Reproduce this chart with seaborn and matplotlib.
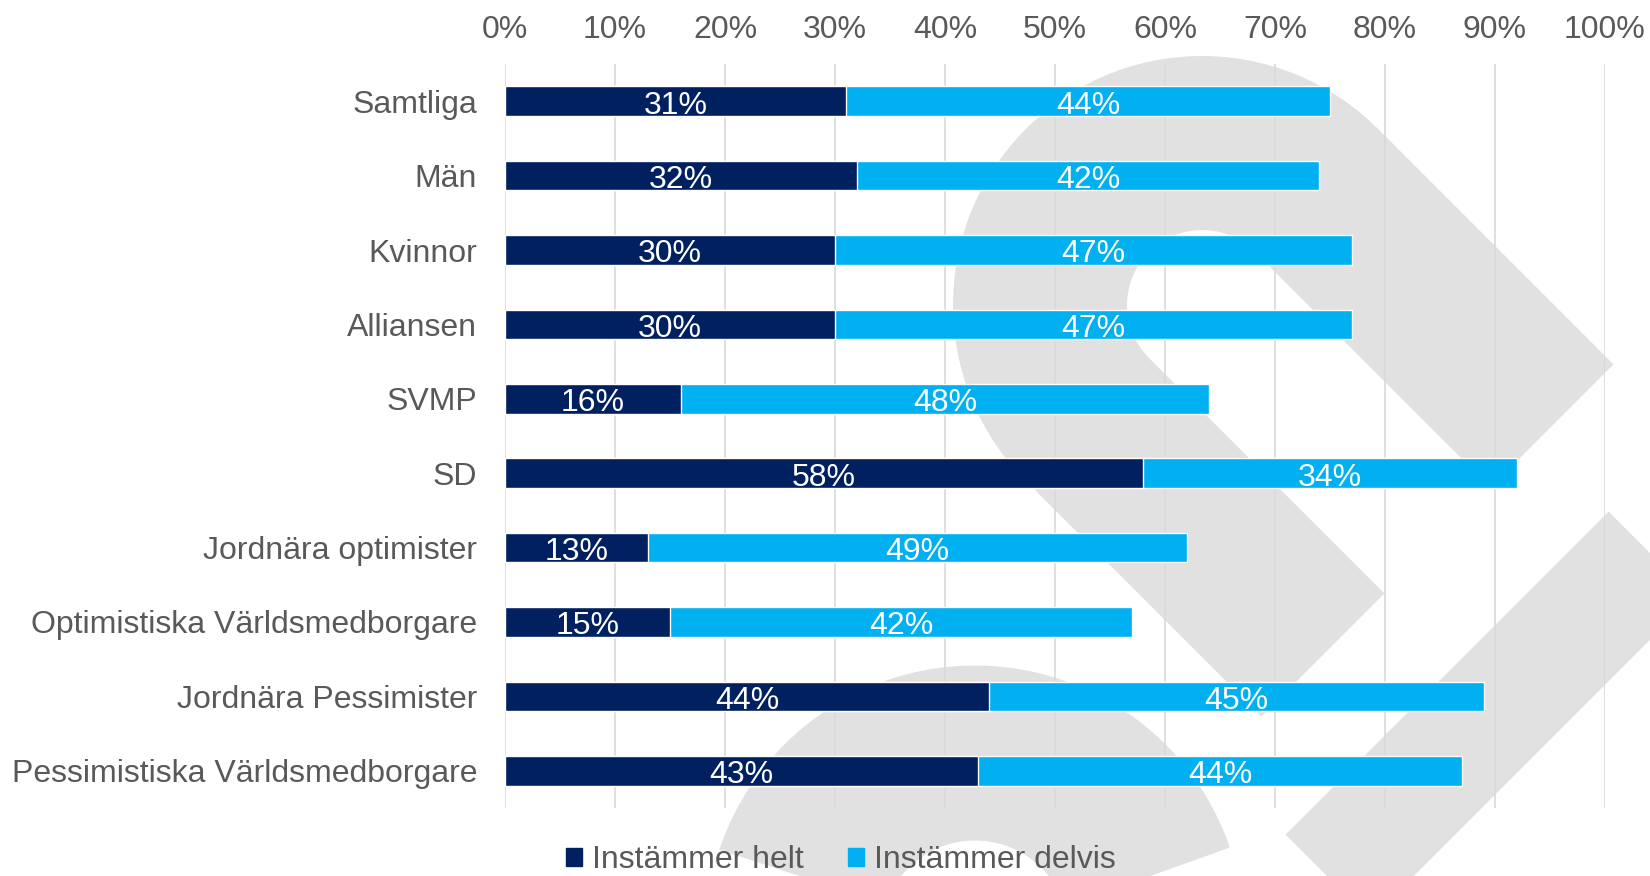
import numpy as np
import pandas as pd
import matplotlib
matplotlib.use('Agg')
import matplotlib.pyplot as plt
from matplotlib.lines import Line2D
from matplotlib.patches import Patch
import seaborn as sns

# data
groups = ['Samtliga', 'Män', 'Kvinnor', 'Alliansen', 'SVMP', 'SD',
          'Jordnära optimister', 'Optimistiska Världsmedborgare',
          'Jordnära Pessimister', 'Pessimistiska Världsmedborgare']
helt = [31, 32, 30, 30, 16, 58, 13, 15, 44, 43]
delvis = [44, 42, 47, 47, 48, 34, 49, 42, 45, 44]
series = ['Instämmer helt', 'Instämmer delvis']
ticks = list(range(0, 101, 10))

NAVY = '#002060'
LIGHT = '#00B0F0'
TXT = '#595959'
WM = '#E1E1E1'

sns.set_theme(style='white')
plt.rcParams['font.family'] = ['Liberation Sans', 'DejaVu Sans']

df = pd.DataFrame({'grupp': groups, 'helt': helt, 'delvis': delvis})
df['totalt'] = df['helt'] + df['delvis']

W, H = 1650, 876
fig = plt.figure(figsize=(W / 100, H / 100), dpi=100)
fig.patch.set_facecolor('white')


def stroke(pts, width):
    # pts in pixel coords (y down), width in pixels
    pts = np.asarray(pts, dtype=float)
    ln = Line2D(pts[:, 0] / W, 1 - pts[:, 1] / H, transform=fig.transFigure,
                color=WM, lw=width * 0.72, solid_capstyle='butt',
                solid_joinstyle='round', zorder=-5)
    fig.add_artist(ln)


# background logo (rough)
c = np.array([1202, 305])
d = np.array([1, 1]) / np.sqrt(2)
n = np.array([-1, 1]) / np.sqrt(2)
r, arm = 162, 333
th = np.radians(np.linspace(-45, -225, 60))
arc = c + r * np.c_[np.cos(th), np.sin(th)]
stroke(np.vstack([c - r * n + arm * d, arc, c + r * n + arm * d]), 174)
th = np.radians(np.linspace(0, 360, 120))
stroke(np.array([975, 935]) + 182 * np.c_[np.cos(th), np.sin(th)], 175)
stroke([[1205, 1000], [1750, 455]], 120)

ax = fig.add_axes([505 / W, 1 - 808 / H, 1100 / W, 744 / H])
ax.set_facecolor('none')

sns.barplot(data=df, y='grupp', x='totalt', orient='h', color=LIGHT,
            saturation=1, width=0.4, ax=ax, zorder=3)
sns.barplot(data=df, y='grupp', x='helt', orient='h', color=NAVY,
            saturation=1, width=0.4, ax=ax, zorder=3)

for i, (h, dv) in enumerate(zip(helt, delvis)):
    ax.text(h / 2, i + 0.06, f'{h}%', ha='center', va='center', color='white',
            fontsize=23, zorder=4)
    ax.text(h + dv / 2, i + 0.06, f'{dv}%', ha='center', va='center',
            color='white', fontsize=23, zorder=4)

ax.set_xlim(0, 100)
ax.set_ylim(9.5, -0.5)
ax.xaxis.tick_top()
ax.set_xticks(ticks)
ax.set_xticklabels([f'{t}%' for t in ticks])
ax.set_xlabel('')
ax.set_ylabel('')
ax.grid(axis='x', color='#D9D9D9', lw=1.2)
ax.grid(axis='y', visible=False)
ax.set_axisbelow(True)
for s in ax.spines.values():
    s.set_visible(False)
ax.tick_params(axis='x', length=0, pad=14, labelsize=23, labelcolor=TXT)
ax.tick_params(axis='y', length=0, pad=20, labelsize=23, labelcolor=TXT)

handles = [Patch(color=NAVY), Patch(color=LIGHT)]
ax.legend(handles, series, loc='upper center', bbox_to_anchor=(0.3055, -0.05),
          ncol=2, frameon=False, fontsize=23, labelcolor=TXT,
          handlelength=0.5, handleheight=0.5, handletextpad=0.3,
          columnspacing=1.4, borderaxespad=0, borderpad=0)

fig.savefig('out.png', dpi=100)
